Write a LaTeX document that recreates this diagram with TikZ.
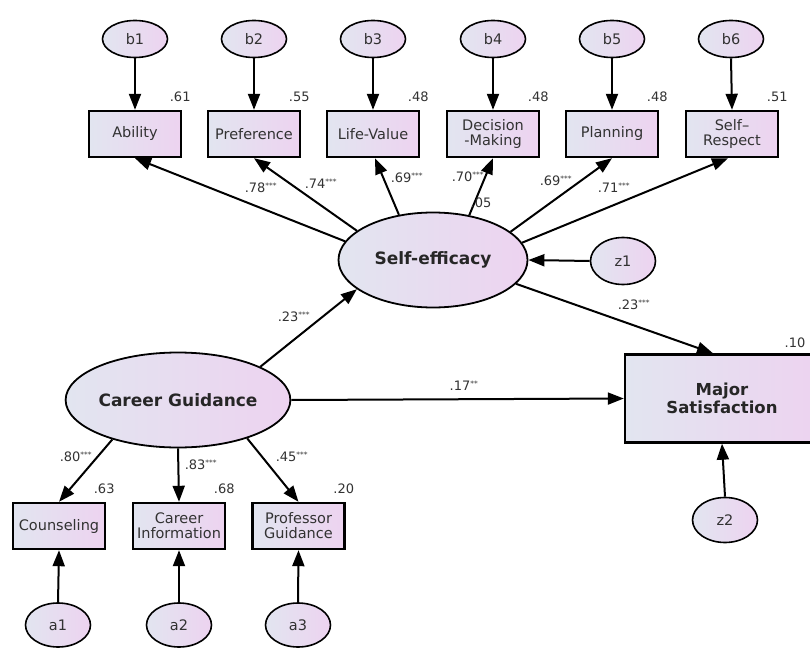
\documentclass[tikz,border=0pt]{standalone}
\usepackage{fontspec}
\setmainfont{DejaVu Sans}
\usetikzlibrary{arrows.meta,shapes.geometric}
\definecolor{fillA}{RGB}{226,229,240}
\definecolor{fillB}{RGB}{237,211,240}
\definecolor{txt}{RGB}{50,50,50}
\tikzset{
  shade/.style={left color=fillA, right color=fillB},
  obs/.style={draw, line width=2.4pt, shade, minimum width=92pt, minimum height=46pt,
    inner sep=0pt, align=center, font=\fontsize{14.5}{15}\selectfont, text=txt},
  err/.style={ellipse, draw, line width=1.6pt, shade, minimum width=65pt, minimum height=37pt,
    inner sep=0pt, font=\fontsize{14.5}{15}\selectfont, text=txt},
  lat/.style={ellipse, draw, line width=1.8pt, shade, minimum width=189pt, minimum height=95pt,
    inner sep=0pt, align=center, font=\bfseries\fontsize{17}{19}\selectfont, text=black!85},
  arr/.style={-{Triangle[length=16pt,width=12pt]}, line width=2pt},
  lbl/.style={font=\fontsize{13}{14}\selectfont, text=txt, inner sep=0pt},
}
\newcommand\sig[2]{#1\textsuperscript{\fontsize{7.5}{7.5}\selectfont #2}}
\begin{document}
\begin{tikzpicture}[x=1pt,y=-1pt]
\useasboundingbox (0,0) rectangle (810,647);
\clip (0,0) rectangle (810,647);
% error circles top
\node[err] (b1) at (135,39) {b1};
\node[err] (b2) at (254,39) {b2};
\node[err] (b3) at (373,39) {b3};
\node[err] (b4) at (493,39) {b4};
\node[err] (b5) at (612,39) {b5};
\node[err] (b6) at (731,39) {b6};
% indicator boxes top
\node[obs] (ab) at (135,134) {Ability};
\node[obs] (pr) at (254,134) {Preference};
\node[obs] (lv) at (373,134) {Life-Value};
\node[obs] (dm) at (493,134) {Decision\\-Making};
\node[obs] (pl) at (612,134) {Planning};
\node[obs] (sr) at (732,134) {Self–\\Respect};
% R2 top
\node[lbl] (r1) at ([shift={(-2,-13)}]ab.north east) {.61};
\node[lbl] (r2) at ([shift={(-2,-13)}]pr.north east) {.55};
\node[lbl] (r3) at ([shift={(-2,-13)}]lv.north east) {.48};
\node[lbl] (r4) at ([shift={(-2,-13)}]dm.north east) {.48};
\node[lbl] (r5) at ([shift={(-2,-13)}]pl.north east) {.48};
\node[lbl] (r6) at ([shift={(-2,-13)}]sr.north east) {.51};
% latent
\node[lat] (se) at (433,260) {Self-efficacy};
\node[lat] (cg) at (178,400) {Career Guidance};
\node[err, minimum height=47pt] (z1) at (623,261) {z1};
% outcome
\node[obs, minimum width=194pt, minimum height=88pt, font=\bfseries\fontsize{16.5}{18}\selectfont, text=black!85] (ms) at (722,398.5) {Major\\Satisfaction};
\node[lbl] (r10) at (795,343) {.10};
\node[err, minimum height=45pt] (z2) at (725,520) {z2};
% bottom boxes
\node[obs] (co) at (59,526) {Counseling};
\node[obs] (ci) at (179,526) {Career\\Information};
\node[obs] (pg) at (298.5,526) {Professor\\Guidance};
\node[lbl] (r7) at ([shift={(-2,-13)}]co.north east) {.63};
\node[lbl] (r8) at ([shift={(-2,-13)}]ci.north east) {.68};
\node[lbl] (r9) at ([shift={(-2,-13)}]pg.north east) {.20};
\node[err, minimum height=44pt] (a1) at (58,625) {a1};
\node[err, minimum height=44pt] (a2) at (179,625) {a2};
\node[err, minimum height=44pt] (a3) at (298,625) {a3};
% error arrows
\foreach \e/\o in {b1/ab,b2/pr,b3/lv,b4/dm,b5/pl,b6/sr}
  \draw[arr] (\e.south) -- (\o.north);
\foreach \e/\o in {a1/co,a2/ci,a3/pg}
  \draw[arr] (\e.north) -- (\o.south);
\draw[arr] (z2.north) -- (ms.south);
\draw[arr] (z1.west) -- (se.east);
% loadings
\draw[arr] (se.168.7) -- (ab.south);
\draw[arr] (se.159.4) -- (pr.south);
\draw[arr] (se.127.5) -- ([xshift=2pt]lv.south);
\draw[arr] (se.51.8) -- (dm.south);
\draw[arr] (se.20.6) -- (pl.south);
\draw[arr] (se.11.3) -- ([xshift=-4pt]sr.south);
\draw[arr] (se.-16.4) -- ([xshift=-9pt]ms.north);
\draw[arr] (cg.22.6) -- (se.201);
\draw[arr] (cg.east) -- (ms.west);
\draw[arr] (cg.211) -- (co.north);
\draw[arr] (cg.south) -- (ci.north);
\draw[arr] (cg.-29.6) -- (pg.north);
% path labels
\node[lbl] (p1) at (261,188) {\sig{.78}{***}};
\node[lbl] (p2) at (321,184) {\sig{.74}{***}};
\node[lbl] (p3) at (407,178) {\sig{.69}{***}};
\node[lbl] (p4) at (468,177) {\sig{.70}{***}};
\node[lbl] (p5) at (481,203) {.05};
\node[lbl] (p6) at (556,181) {\sig{.69}{***}};
\node[lbl] (p7) at (614,188) {\sig{.71}{***}};
\node[lbl] (p8) at (634,305) {\sig{.23}{***}};
\node[lbl] (p9) at (294,317) {\sig{.23}{***}};
\node[lbl] (p10) at (464,386) {\sig{.17}{**}};
\node[lbl] (p11) at (76,457) {\sig{.80}{***}};
\node[lbl] (p12) at (201,465) {\sig{.83}{***}};
\node[lbl] (p13) at (292,457) {\sig{.45}{***}};
\end{tikzpicture}
\end{document}
